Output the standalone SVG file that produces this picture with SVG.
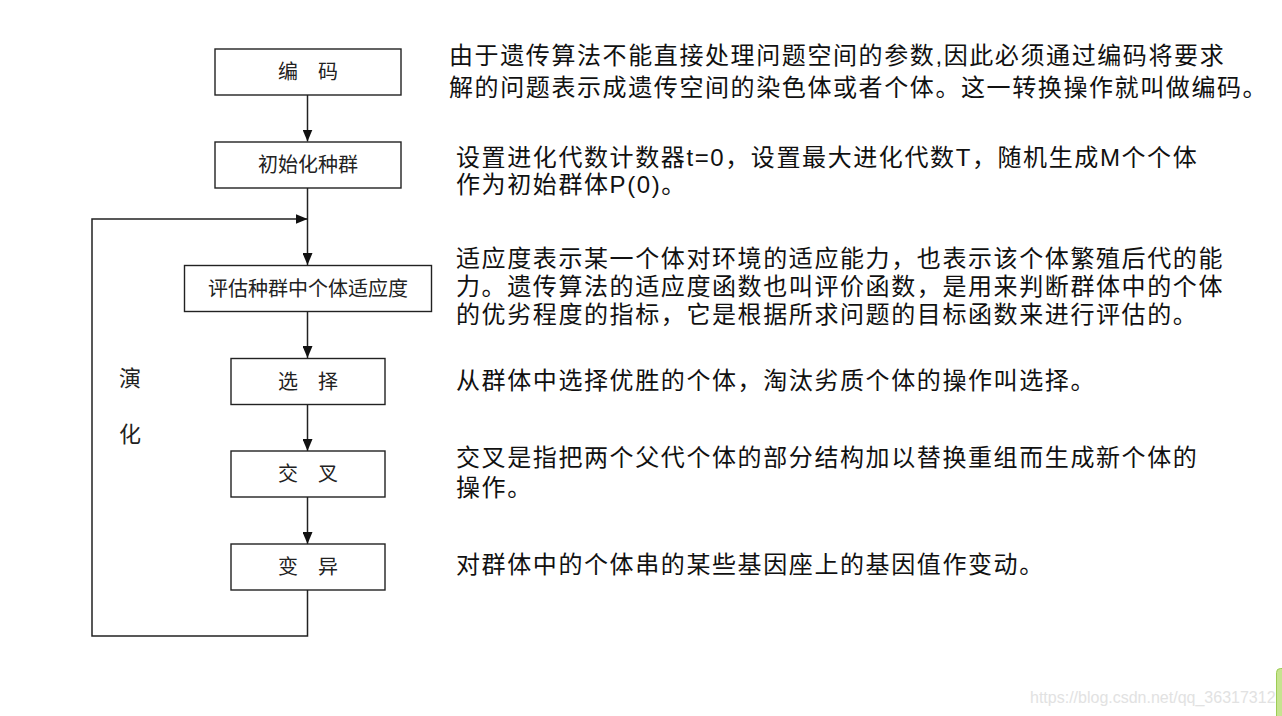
<svg xmlns="http://www.w3.org/2000/svg" width="1282" height="716" viewBox="0 0 1282 716">
<style>
.box{fill:#fff;stroke:#222;stroke-width:1.4}
.lbl{font-family:"Liberation Sans","Noto Sans CJK SC",sans-serif;font-size:20px;fill:#222;text-anchor:middle}
.txt{font-family:"Liberation Sans","Noto Sans CJK SC",sans-serif;font-size:24px;fill:#111;letter-spacing:1.6px}
.con{fill:none;stroke:#222;stroke-width:1.5}
.side{font-family:"Liberation Sans","Noto Sans CJK SC",sans-serif;font-size:22px;fill:#222;text-anchor:middle}
</style>
<defs>
<marker id="ah" viewBox="0 0 12 10" refX="12" refY="5" markerWidth="12" markerHeight="10" markerUnits="userSpaceOnUse" orient="auto">
<path d="M0,0 L12,5 L0,10 Z" fill="#111"/>
</marker>
</defs>
<rect width="1282" height="716" fill="#fff"/>
<g id="connectors">
<line class="con" x1="307.5" y1="95" x2="307.5" y2="141.5" marker-end="url(#ah)"/>
<line class="con" x1="307.5" y1="188" x2="307.5" y2="265" marker-end="url(#ah)"/>
<line class="con" x1="307.5" y1="311.5" x2="307.5" y2="358" marker-end="url(#ah)"/>
<line class="con" x1="307.5" y1="404" x2="307.5" y2="451" marker-end="url(#ah)"/>
<line class="con" x1="307.5" y1="497" x2="307.5" y2="544" marker-end="url(#ah)"/>
<polyline class="con" points="307.5,590 307.5,636 92,636 92,219 307.5,219" marker-end="url(#ah)"/>
</g>
<g id="n-encode"><rect class="box" x="215" y="49" width="186" height="46"/><text class="lbl" x="308" y="79">编　码</text></g>
<g id="n-init"><rect class="box" x="215" y="142" width="186" height="46"/><text class="lbl" x="308" y="172">初始化种群</text></g>
<g id="n-eval"><rect class="box" x="184.5" y="265.5" width="247" height="46"/><text class="lbl" x="308" y="295.5">评估种群中个体适应度</text></g>
<g id="n-select"><rect class="box" x="231" y="358.5" width="154" height="46"/><text class="lbl" x="308" y="388.5">选　择</text></g>
<g id="n-cross"><rect class="box" x="231" y="451" width="154" height="46"/><text class="lbl" x="308" y="481">交　叉</text></g>
<g id="n-mutate"><rect class="box" x="231" y="544" width="154" height="46"/><text class="lbl" x="308" y="574">变　异</text></g>
<g id="evolve-label"><text class="side" x="130" y="386">演</text><text class="side" x="130" y="442">化</text></g>
<g id="descriptions">
<text class="txt"><tspan x="449" y="64">由于遗传算法不能直接处理问题空间的参数,因此必须通过编码将要求</tspan><tspan x="449" y="96">解的问题表示成遗传空间的染色体或者个体。这一转换操作就叫做编码。</tspan></text>
<text class="txt"><tspan x="456" y="166">设置进化代数计数器t=0，设置最大进化代数T，随机生成M个个体</tspan><tspan x="456" y="193">作为初始群体P(0)。</tspan></text>
<text class="txt"><tspan x="456" y="267">适应度表示某一个体对环境的适应能力，也表示该个体繁殖后代的能</tspan><tspan x="456" y="295">力。遗传算法的适应度函数也叫评价函数，是用来判断群体中的个体</tspan><tspan x="456" y="323">的优劣程度的指标，它是根据所求问题的目标函数来进行评估的。</tspan></text>
<text class="txt" x="456" y="389">从群体中选择优胜的个体，淘汰劣质个体的操作叫选择。</text>
<text class="txt"><tspan x="456" y="466">交叉是指把两个父代个体的部分结构加以替换重组而生成新个体的</tspan><tspan x="456" y="496">操作。</tspan></text>
<text class="txt" x="456" y="573">对群体中的个体串的某些基因座上的基因值作变动。</text>
</g>
<text x="1030" y="703" font-family="Liberation Sans, Arial, sans-serif" font-size="16" fill="#e2e2e2">https://blog.csdn.net/qq_36317312</text>
<rect x="1276.5" y="668.5" width="12" height="60" rx="4" fill="#c6e48f" stroke="#9ccc55" stroke-width="1"/>
</svg>
